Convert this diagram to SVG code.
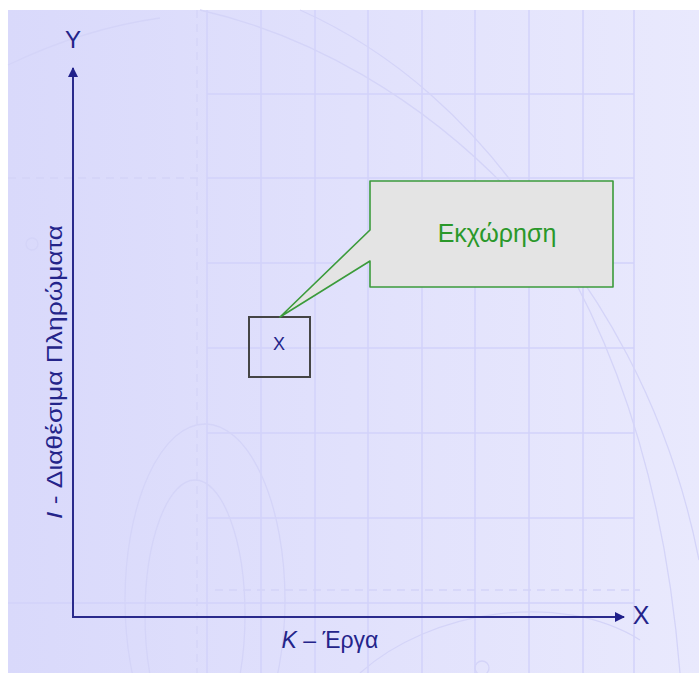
<svg xmlns="http://www.w3.org/2000/svg" width="699" height="673" viewBox="0 0 699 673">
<defs>
<linearGradient id="bg" x1="0" y1="0" x2="1" y2="0">
<stop offset="0" stop-color="#d9d9fb"/>
<stop offset="1" stop-color="#e9e9fd"/>
</linearGradient>
<marker id="arr" viewBox="0 0 10 10" refX="9" refY="5" markerWidth="5.5" markerHeight="5" orient="auto" markerUnits="strokeWidth">
<path d="M0,0 L10,5 L0,10 z" fill="#20208a"/>
</marker>
<style>
.grid{stroke:#d2d2fa;stroke-width:1.5;fill:none}
.deco{stroke:#d4d4f8;stroke-width:1.3;fill:none}
.axis{stroke:#2a2a8c;stroke-width:2;fill:none}
.lbl{font-family:"Liberation Sans",Arial,sans-serif;fill:#24248a}
</style>
</defs>
<rect width="699" height="673" fill="#ffffff"/>
<rect x="8" y="10" width="691" height="663" fill="url(#bg)"/>
<g id="background">
<path class="grid" d="M207,10V673M261,10V673M315,10V673M368,10V673M422,10V673M475,10V673M529,10V673M583,10V673M634,10V673"/>
<path class="grid" d="M207,94H634M207,178H634M207,263H634M207,348H634M207,433H634M207,518H634M8,603H634"/>
<path class="deco" d="M197,10V673" stroke-dasharray="8,6"/>
<path class="deco" d="M8,178H200M215,590H640" stroke-dasharray="8,6"/>
<ellipse class="deco" cx="205" cy="600" rx="80" ry="176"/>
<ellipse class="deco" cx="195" cy="615" rx="50" ry="135"/>
<path class="deco" d="M200,10 C420,60 640,260 699,560"/>
<path class="deco" d="M300,10 C480,90 650,300 680,673"/>
<path class="deco" d="M8,65 C60,40 110,25 160,18"/>
<path class="deco" d="M360,673 C430,610 560,590 640,640"/>
<circle class="deco" cx="32" cy="244" r="6"/>
<circle class="deco" cx="482" cy="668" r="7"/>
</g>
<g id="connectors">
<line class="axis" x1="73" y1="618" x2="73" y2="68" marker-end="url(#arr)"/>
<line class="axis" x1="72" y1="617" x2="624" y2="617" marker-end="url(#arr)"/>
</g>
<g id="axis-labels">
<text class="lbl" x="73" y="48" font-size="24" text-anchor="middle">Y</text>
<text class="lbl" x="641" y="624" font-size="25" text-anchor="middle">X</text>
<text class="lbl" x="330" y="648" font-size="23" text-anchor="middle"><tspan font-style="italic">K</tspan> – Έργα</text>
<text class="lbl" transform="translate(62,372) rotate(-90)" font-size="22" text-anchor="middle" textLength="294" lengthAdjust="spacingAndGlyphs"><tspan font-style="italic">I</tspan> - Διαθέσιμα Πληρώματα</text>
</g>
<g id="node-x">
<rect x="249" y="317" width="61" height="60" fill="none" stroke="#454545" stroke-width="2"/>
<text class="lbl" x="279" y="350" font-size="18" text-anchor="middle">X</text>
</g>
<g id="callout">
<path d="M370,181 H613 V287 H370 V261 L280,317 L370,230 Z" fill="#e4e4e4" stroke="#3b9b3b" stroke-width="1.6" stroke-linejoin="round"/>
<text x="497" y="242" font-size="25" text-anchor="middle" font-family="Liberation Sans,Arial,sans-serif" fill="#2a982a">Εκχώρηση</text>
</g>
</svg>
